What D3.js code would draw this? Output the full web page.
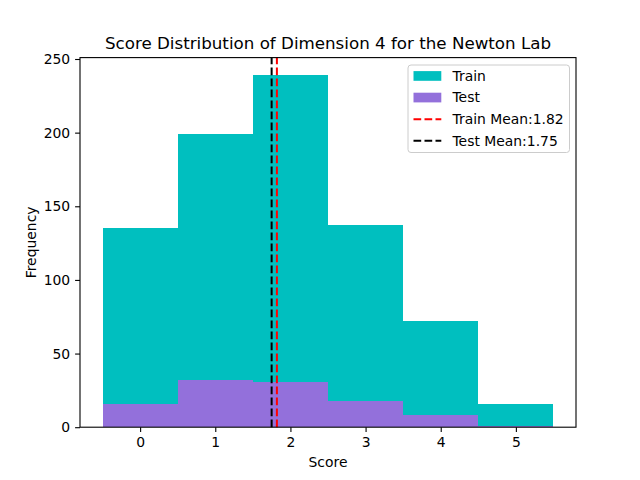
<!DOCTYPE html>
<html>
<head>
<meta charset="utf-8">
<script src="https://cdn.jsdelivr.net/npm/d3@7"></script>
<style>
  body { margin: 0; background: #fff; }
  text { font-family: "DejaVu Sans", sans-serif; }
</style>
</head>
<body>
<div id="chart"></div>
<script>
// Scores (bins) and counts
const scores = [0, 1, 2, 3, 4, 5];
const trainCounts = [135, 199, 239, 137, 72, 16];
const testCounts = [16, 32, 31, 18, 8, 1];
const trainMean = 1.82;
const testMean = 1.75;
const yTicks = [0, 50, 100, 150, 200, 250];

const width = 640, height = 480;
const margin = { top: 57.6, right: 64, bottom: 52.8, left: 80 };

const svg = d3.select("#chart").append("svg")
    .attr("width", width)
    .attr("height", height);

const x = d3.scaleLinear()
    .domain([-0.8, 5.8])
    .range([margin.left, width - margin.right]);

const y = d3.scaleLinear()
    .domain([0, d3.max(trainCounts) * 1.05])
    .range([height - margin.bottom, margin.top]);

// Train histogram
svg.append("g").selectAll("rect")
    .data(scores)
    .join("rect")
    .attr("x", d => x(d - 0.5))
    .attr("width", d => x(d + 0.5) - x(d - 0.5))
    .attr("y", (d, i) => y(trainCounts[i]))
    .attr("height", (d, i) => y(0) - y(trainCounts[i]))
    .attr("fill", "#00bfbf")
    .attr("shape-rendering", "crispEdges");

// Test histogram
svg.append("g").selectAll("rect")
    .data(scores)
    .join("rect")
    .attr("x", d => x(d - 0.5))
    .attr("width", d => x(d + 0.5) - x(d - 0.5))
    .attr("y", (d, i) => y(testCounts[i]))
    .attr("height", (d, i) => y(0) - y(testCounts[i]))
    .attr("fill", "#9370db")
    .attr("shape-rendering", "crispEdges");

// Mean lines
const means = [
    { v: trainMean, color: "red" },
    { v: testMean, color: "black" }
];
svg.append("g").selectAll("line")
    .data(means)
    .join("line")
    .attr("x1", d => x(d.v))
    .attr("x2", d => x(d.v))
    .attr("y1", y.range()[0])
    .attr("y2", y.range()[1])
    .attr("stroke", d => d.color)
    .attr("stroke-width", 2)
    .attr("stroke-dasharray", "7.7,3.3");

// Axes
const xAxis = svg.append("g")
    .attr("transform", `translate(0,${height - margin.bottom})`)
    .call(d3.axisBottom(x).tickValues(scores).tickFormat(d3.format("d"))
        .tickSize(4.9).tickPadding(4.9));
const yAxis = svg.append("g")
    .attr("transform", `translate(${margin.left},0)`)
    .call(d3.axisLeft(y).tickValues(yTicks).tickFormat(d3.format("d"))
        .tickSize(4.9).tickPadding(4.9));

[xAxis, yAxis].forEach(g => {
    g.select(".domain").remove();
    g.selectAll("text").attr("font-size", "13.9px").attr("fill", "black")
        .attr("font-family", "DejaVu Sans, sans-serif");
    g.selectAll("line").attr("stroke", "black").attr("stroke-width", 1.1);
});

// Frame
svg.append("rect")
    .attr("x", margin.left)
    .attr("y", margin.top)
    .attr("width", width - margin.left - margin.right)
    .attr("height", height - margin.top - margin.bottom)
    .attr("fill", "none")
    .attr("stroke", "black")
    .attr("stroke-width", 1.1);

// Title and labels
svg.append("text")
    .attr("x", (margin.left + width - margin.right) / 2)
    .attr("y", margin.top - 9)
    .attr("text-anchor", "middle")
    .attr("font-size", "16.7px")
    .text("Score Distribution of Dimension 4 for the Newton Lab");

svg.append("text")
    .attr("x", (margin.left + width - margin.right) / 2)
    .attr("y", 467)
    .attr("text-anchor", "middle")
    .attr("font-size", "13.9px")
    .text("Score");

svg.append("text")
    .attr("transform", `translate(36,${(margin.top + height - margin.bottom) / 2}) rotate(-90)`)
    .attr("text-anchor", "middle")
    .attr("font-size", "13.9px")
    .text("Frequency");

// Legend
const legendItems = [
    { label: "Train", type: "patch", color: "#00bfbf" },
    { label: "Test", type: "patch", color: "#9370db" },
    { label: "Train Mean:1.82", type: "line", color: "red" },
    { label: "Test Mean:1.75", type: "line", color: "black" }
];
const legend = svg.append("g").attr("transform", "translate(408,65)");
legend.append("rect")
    .attr("width", 161.5)
    .attr("height", 87.5)
    .attr("rx", 3)
    .attr("fill", "white")
    .attr("fill-opacity", 0.8)
    .attr("stroke", "#cccccc")
    .attr("stroke-width", 1);
legendItems.forEach((d, i) => {
    const yy = 11 + i * 21.6;
    if (d.type === "patch") {
        legend.append("rect")
            .attr("x", 5.5).attr("y", yy - 4.9)
            .attr("width", 27.8).attr("height", 9.7)
            .attr("fill", d.color);
    } else {
        legend.append("line")
            .attr("x1", 5.5).attr("x2", 33.3)
            .attr("y1", yy).attr("y2", yy)
            .attr("stroke", d.color)
            .attr("stroke-width", 2)
            .attr("stroke-dasharray", "7.7,3.3");
    }
    legend.append("text")
            .attr("x", 44.5).attr("y", yy)
            .attr("dy", "0.35em")
            .attr("font-size", "13.9px")
            .text(d.label);
});
</script>
</body>
</html>
